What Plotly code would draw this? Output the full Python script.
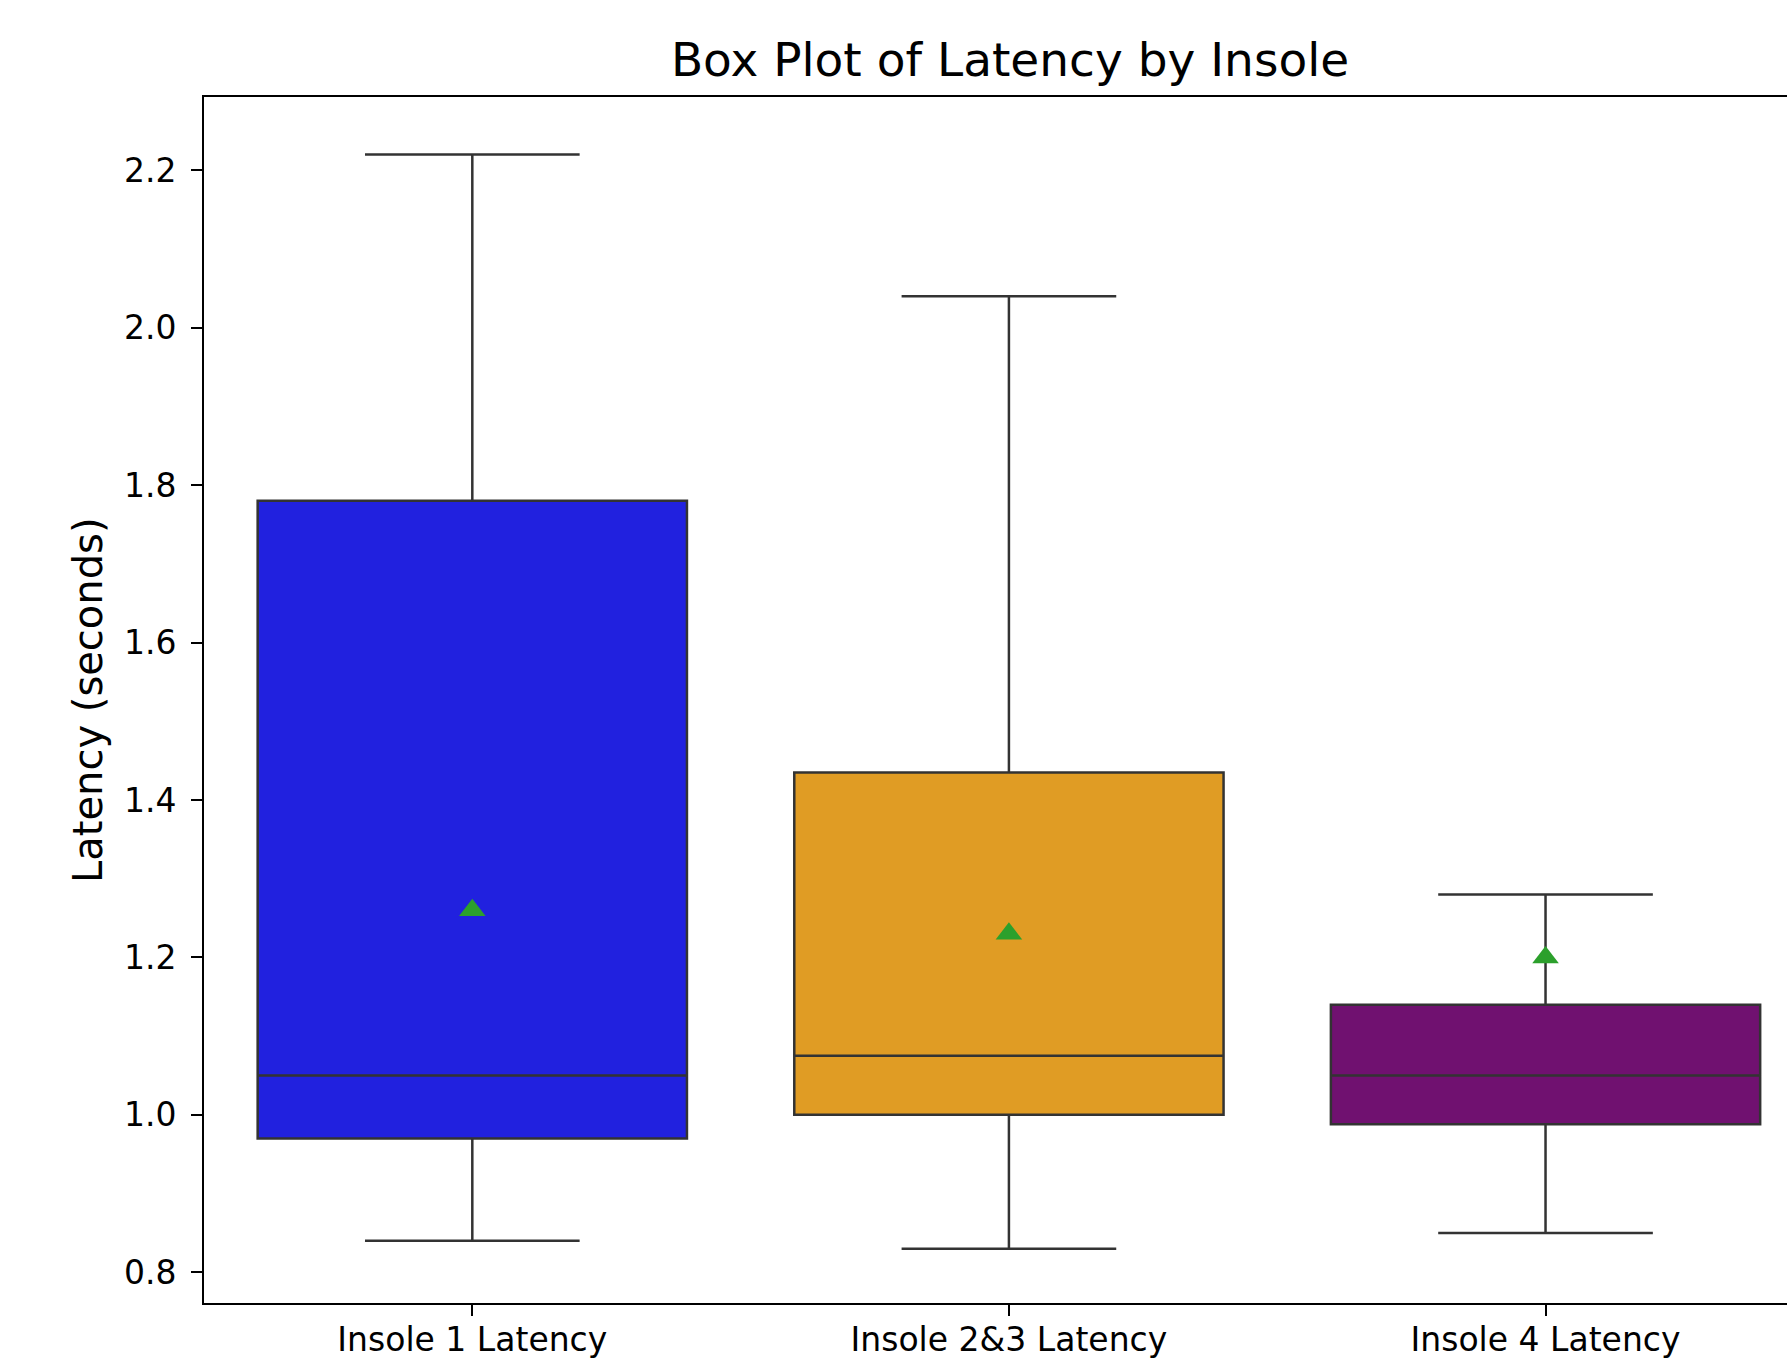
import plotly.graph_objects as go

# Summary statistics per insole (seconds)
categories = ["Insole 1 Latency", "Insole 2&3 Latency", "Insole 4 Latency"]
q1_values = [0.97, 1.00, 0.988]
median_values = [1.05, 1.075, 1.05]
q3_values = [1.78, 1.435, 1.14]
lower_whiskers = [0.84, 0.83, 0.85]
upper_whiskers = [2.22, 2.04, 1.28]
mean_values = [1.26, 1.23, 1.20]
box_colors = ["#2121df", "#e09c24", "#701170"]

y_tick_vals = [0.8, 1.0, 1.2, 1.4, 1.6, 1.8, 2.0, 2.2]

W, H = 1787, 1369
LEFT, TOP, BOTTOM = 204, 97, 66
FONT = "DejaVu Sans"
EDGE = "#333333"

fig = go.Figure()

for i, name in enumerate(categories):
    fig.add_trace(go.Box(
        x=[i],
        q1=[q1_values[i]],
        median=[median_values[i]],
        q3=[q3_values[i]],
        lowerfence=[lower_whiskers[i]],
        upperfence=[upper_whiskers[i]],
        width=0.8,
        whiskerwidth=0.5,
        fillcolor=box_colors[i],
        line=dict(color=EDGE, width=2.5),
        boxpoints=False,
        name=name,
        showlegend=False,
        hoverinfo="skip",
    ))

# Means shown as green triangles
fig.add_trace(go.Scatter(
    x=list(range(len(categories))),
    y=mean_values,
    mode="markers",
    marker=dict(symbol="triangle-up", size=23, color="#2ca02c", line=dict(width=0)),
    showlegend=False,
    hoverinfo="skip",
))

plot_w = W - LEFT

fig.update_layout(
    width=W,
    height=H,
    autosize=False,
    margin=dict(l=LEFT, r=0, t=TOP, b=BOTTOM, pad=0),
    paper_bgcolor="white",
    plot_bgcolor="white",
    font=dict(family=FONT, color="black", size=33),
    title=dict(
        text="Box Plot of Latency by Insole",
        font=dict(family=FONT, size=47, color="black"),
        x=(1010 - LEFT) / plot_w,
        xref="paper",
        xanchor="center",
        y=1 - 60 / H,
        yref="container",
        yanchor="middle",
    ),
    xaxis=dict(
        range=[-0.5, 2.45],
        tickmode="array",
        tickvals=list(range(len(categories))),
        ticktext=categories,
        showgrid=False,
        zeroline=False,
        showline=True,
        linecolor="black",
        linewidth=2,
        mirror=True,
        ticks="outside",
        ticklen=11,
        tickwidth=2,
        tickcolor="black",
        ticklabelstandoff=-5,
        tickfont=dict(family=FONT, size=33, color="black"),
    ),
    yaxis=dict(
        range=[0.761, 2.293],
        tickmode="array",
        tickvals=y_tick_vals,
        ticktext=[f"{v:.1f}" for v in y_tick_vals],
        showgrid=False,
        zeroline=False,
        showline=True,
        linecolor="black",
        linewidth=2,
        mirror=False,
        ticks="outside",
        ticklen=11,
        tickwidth=2,
        tickcolor="black",
        ticklabelstandoff=8,
        tickfont=dict(family=FONT, size=33, color="black"),
    ),
    annotations=[dict(
        text="Latency (seconds)",
        xref="paper",
        yref="paper",
        x=(88 - LEFT) / plot_w,
        y=0.5,
        xanchor="center",
        yanchor="middle",
        textangle=-90,
        showarrow=False,
        font=dict(family=FONT, size=40, color="black"),
    )],
)

fig.write_html("out.html")
